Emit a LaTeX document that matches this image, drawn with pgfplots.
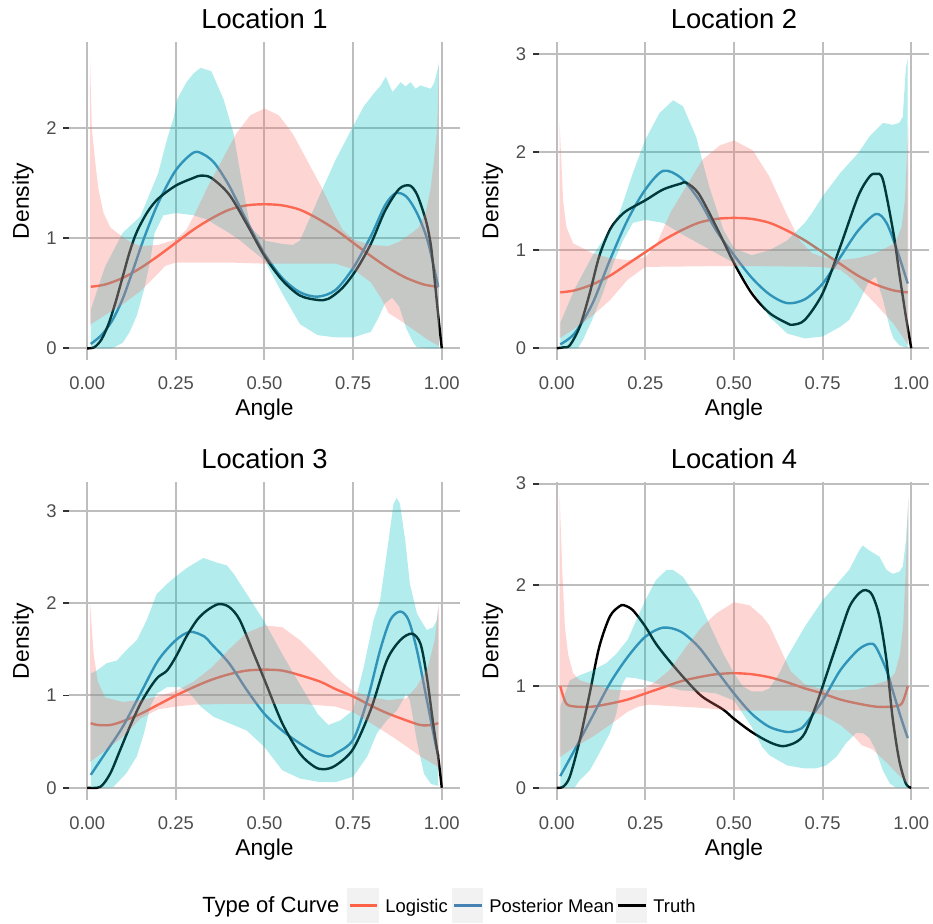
\documentclass[border=0pt]{standalone}
\usepackage{fontspec}
\setmainfont{Liberation Sans}
\usepackage{pgfplots}
\pgfplotsset{compat=1.18}
\definecolor{cyanf}{HTML}{00BFC4}
\definecolor{pinkf}{HTML}{F8766D}
\definecolor{logc}{HTML}{FF6347}
\definecolor{postc}{HTML}{4682B4}
\definecolor{gridc}{RGB}{190,190,190}
\definecolor{tickc}{HTML}{333333}
\definecolor{tlab}{HTML}{4D4D4D}
\definecolor{keybg}{HTML}{F2F2F2}
\pgfplotsset{
  panel/.style={
    scale only axis, width=195pt, height=159pt,
    xmin=-0.05, xmax=1.05,
    xtick={0,0.25,0.5,0.75,1}, ytick={0,1,2,3},
    grid=major, major grid style={gridc, line width=1pt},
    axis line style={draw=none},
    tick align=outside, major tick length=3pt,
    xtick style={draw=none}, ytick style={tickc, line width=0.9pt},
    xtick pos=left, ytick pos=left,
    /pgf/number format/assume math mode=true,
    tick label style={font=\fontsize{9.2}{11}\selectfont, text=tlab},
    x tick label style={/pgf/number format/fixed, /pgf/number format/fixed zerofill, /pgf/number format/precision=2, anchor=base, yshift=-11.75pt},
    y tick label style={anchor=east, inner sep=0pt, xshift=-3.25pt},
    every axis title shift=0pt,
    title style={at={(axis description cs:0.5,1.044)}, anchor=base, font=\fontsize{13.7}{16}\selectfont},
    xlabel=Angle, ylabel=Density,
    xlabel style={at={(axis description cs:0.5,-0.176)}, anchor=base, font=\fontsize{11.4}{13}\selectfont},
    ylabel style={at={(axis description cs:-0.1044,0.5)}, anchor=base, font=\fontsize{11.4}{13}\selectfont},
  },
  logl/.style={logc, line width=1.2pt, smooth},
  postl/.style={postc, line width=1.2pt, smooth},
  trul/.style={black, line width=1.2pt, smooth},
  cyr/.style={draw=none, fill=cyanf, fill opacity=0.3},
  pkr/.style={draw=none, fill=pinkf, fill opacity=0.3},
}
\begin{document}
\begin{tikzpicture}
\useasboundingbox (0,0) rectangle (466.5pt,-461.5pt);
% ---------------- Location 1
\begin{axis}[panel, at={(34.75pt,-180pt)}, anchor=south west, ymin=-0.106, ymax=2.785, title={Location 1}]
\addplot[logl] coordinates {(0.01,0.56)(0.05,0.58)(0.1,0.64)(0.15,0.73)(0.2,0.84)(0.25,0.96)(0.3,1.08)(0.35,1.18)(0.4,1.26)(0.45,1.30)(0.5,1.31)(0.55,1.30)(0.6,1.26)(0.65,1.18)(0.7,1.08)(0.75,0.96)(0.8,0.84)(0.85,0.73)(0.9,0.64)(0.95,0.58)(0.99,0.56)};
\addplot[postl] coordinates {(0.01,0.04)(0.04,0.12)(0.07,0.25)(0.1,0.45)(0.13,0.72)(0.16,1.0)(0.2,1.32)(0.25,1.62)(0.3,1.78)(0.33,1.76)(0.36,1.68)(0.4,1.48)(0.45,1.16)(0.5,0.86)(0.55,0.64)(0.6,0.51)(0.65,0.47)(0.7,0.53)(0.75,0.73)(0.8,1.02)(0.84,1.3)(0.87,1.41)(0.9,1.38)(0.93,1.23)(0.96,0.98)(0.99,0.56)};
\addplot[trul] coordinates {(0,0)(0.02,0.01)(0.04,0.08)(0.06,0.22)(0.08,0.42)(0.1,0.65)(0.12,0.88)(0.14,1.06)(0.17,1.24)(0.2,1.36)(0.25,1.48)(0.3,1.55)(0.32,1.57)(0.35,1.55)(0.4,1.40)(0.45,1.13)(0.5,0.84)(0.55,0.62)(0.6,0.48)(0.65,0.44)(0.68,0.45)(0.72,0.55)(0.76,0.72)(0.8,0.95)(0.84,1.25)(0.88,1.45)(0.91,1.48)(0.93,1.40)(0.95,1.22)(0.96,1.10)(0.97,0.92)(0.98,0.62)(0.99,0.3)(1,0)};
% cyan ribbon: upper bound left to right, then lower bound right to left
\addplot[cyr] coordinates {(0.01,0.35)(0.05,0.74)(0.1,1.05)(0.15,1.2)(0.2,1.59)(0.225,1.9)(0.244,2.1)(0.253,2.26)(0.28,2.42)(0.3,2.5)(0.32,2.55)(0.35,2.52)(0.385,2.26)(0.413,1.95)(0.432,1.59)(0.46,1.1)(0.5,0.98)(0.55,0.95)(0.58,0.94)(0.6,0.98)(0.63,1.2)(0.65,1.35)(0.7,1.71)(0.75,2.02)(0.78,2.2)(0.809,2.32)(0.828,2.39)(0.842,2.47)(0.861,2.33)(0.884,2.42)(0.898,2.38)(0.912,2.42)(0.926,2.36)(0.94,2.39)(0.969,2.36)(0.978,2.41)(0.988,2.53)(0.992,2.59)
 (0.992,0)(0.96,0)(0.93,0.01)(0.92,0.05)(0.9,0.18)(0.88,0.38)(0.86,0.46)(0.84,0.41)(0.82,0.27)(0.8,0.15)(0.75,0.1)(0.7,0.1)(0.65,0.12)(0.6,0.22)(0.55,0.5)(0.5,0.8)(0.45,0.93)(0.432,0.98)(0.4,1.05)(0.338,1.17)(0.3,1.21)(0.25,1.23)(0.215,1.21)(0.19,1.05)(0.178,0.8)(0.16,0.53)(0.14,0.3)(0.12,0.15)(0.1,0.05)(0.07,0)(0.01,0)};
% pink ribbon
\addplot[pkr] coordinates {(0.008,2.62)(0.013,2.0)(0.023,1.68)(0.032,1.44)(0.046,1.23)(0.065,1.1)(0.084,1.05)(0.12,0.97)(0.15,0.93)(0.2,0.94)(0.25,0.99)(0.28,1.08)(0.3,1.2)(0.34,1.47)(0.385,1.74)(0.42,1.95)(0.46,2.12)(0.5,2.18)(0.54,2.12)(0.58,1.95)(0.615,1.74)(0.66,1.47)(0.7,1.2)(0.72,1.08)(0.75,0.99)(0.8,0.94)(0.85,0.93)(0.88,0.97)(0.916,1.05)(0.935,1.1)(0.954,1.23)(0.968,1.44)(0.977,1.68)(0.987,2.0)(0.992,2.62)
 (0.992,0.02)(0.96,0.08)(0.92,0.17)(0.88,0.26)(0.85,0.32)(0.83,0.45)(0.8,0.6)(0.75,0.72)(0.7,0.77)(0.6,0.77)(0.5,0.77)(0.4,0.78)(0.3,0.78)(0.25,0.78)(0.22,0.75)(0.2,0.68)(0.15,0.52)(0.1,0.4)(0.05,0.3)(0.01,0.22)(0.008,0.2)};
\end{axis}
% ---------------- Location 2
\begin{axis}[panel, at={(269.5pt,-180pt)}, anchor=south west, ymin=-0.12, ymax=3.125, title={Location 2}]
\addplot[logl] coordinates {(0.01,0.57)(0.05,0.59)(0.1,0.65)(0.15,0.74)(0.2,0.86)(0.25,0.98)(0.3,1.10)(0.35,1.2)(0.4,1.28)(0.45,1.32)(0.5,1.33)(0.55,1.32)(0.6,1.28)(0.65,1.2)(0.7,1.10)(0.75,0.98)(0.8,0.86)(0.85,0.74)(0.9,0.65)(0.95,0.59)(0.99,0.57)};
\addplot[postl] coordinates {(0.01,0.04)(0.05,0.15)(0.1,0.45)(0.15,0.9)(0.2,1.31)(0.25,1.62)(0.3,1.81)(0.35,1.74)(0.4,1.52)(0.45,1.2)(0.5,0.95)(0.55,0.72)(0.6,0.55)(0.65,0.46)(0.7,0.5)(0.75,0.66)(0.8,0.93)(0.85,1.2)(0.9,1.37)(0.93,1.28)(0.96,1.0)(0.99,0.66)};
\addplot[trul] coordinates {(0,0)(0.02,0.01)(0.037,0.03)(0.065,0.22)(0.093,0.56)(0.12,0.94)(0.15,1.21)(0.177,1.34)(0.2,1.41)(0.25,1.51)(0.3,1.62)(0.35,1.68)(0.365,1.69)(0.4,1.58)(0.45,1.24)(0.5,0.87)(0.55,0.56)(0.6,0.36)(0.65,0.255)(0.666,0.24)(0.7,0.29)(0.75,0.56)(0.8,1.04)(0.85,1.55)(0.882,1.75)(0.9,1.78)(0.92,1.72)(0.95,1.17)(0.966,0.77)(0.985,0.32)(1,0)};
\addplot[cyr] coordinates {(0.01,0.26)(0.05,0.6)(0.1,0.94)(0.13,1.1)(0.177,1.38)(0.215,1.79)(0.25,2.13)(0.29,2.4)(0.328,2.53)(0.356,2.47)(0.393,2.16)(0.43,1.65)(0.47,1.21)(0.5,1.02)(0.55,0.95)(0.6,1.0)(0.65,1.1)(0.7,1.28)(0.72,1.38)(0.75,1.55)(0.8,1.79)(0.85,1.99)(0.882,2.16)(0.92,2.3)(0.948,2.28)(0.966,2.3)(0.976,2.36)(0.985,2.87)(0.99,2.96)
 (0.99,0)(0.966,0.03)(0.95,0.1)(0.94,0.2)(0.92,0.5)(0.9,0.73)(0.88,0.68)(0.85,0.45)(0.825,0.29)(0.8,0.22)(0.75,0.12)(0.7,0.1)(0.65,0.15)(0.6,0.32)(0.55,0.6)(0.5,0.87)(0.45,0.97)(0.4,1.07)(0.35,1.17)(0.3,1.28)(0.25,1.31)(0.215,1.28)(0.187,1.1)(0.16,0.87)(0.13,0.56)(0.1,0.29)(0.074,0.085)(0.06,0)(0.01,0)};
\addplot[pkr] coordinates {(0.008,2.3)(0.018,1.51)(0.027,1.24)(0.046,1.07)(0.074,1.02)(0.1,0.97)(0.15,0.92)(0.2,0.9)(0.25,0.93)(0.28,1.05)(0.32,1.38)(0.365,1.65)(0.41,1.92)(0.46,2.07)(0.5,2.12)(0.553,2.02)(0.6,1.75)(0.647,1.38)(0.685,1.1)(0.72,0.97)(0.75,0.93)(0.8,0.9)(0.85,0.92)(0.9,0.97)(0.926,1.02)(0.954,1.07)(0.973,1.24)(0.982,1.51)(0.992,2.3)
 (0.992,0.03)(0.95,0.25)(0.9,0.45)(0.87,0.56)(0.835,0.7)(0.8,0.8)(0.75,0.83)(0.5,0.84)(0.25,0.83)(0.2,0.7)(0.15,0.49)(0.1,0.33)(0.05,0.2)(0.008,0.1)};
\end{axis}
% ---------------- Location 3
\begin{axis}[panel, at={(34.75pt,-400pt)}, anchor=south west, ymin=-0.133, ymax=3.314, title={Location 3}]
\addplot[logl] coordinates {(0.01,0.7)(0.03,0.68)(0.065,0.68)(0.1,0.72)(0.15,0.8)(0.2,0.9)(0.25,1.0)(0.3,1.09)(0.35,1.17)(0.4,1.23)(0.45,1.27)(0.5,1.28)(0.55,1.27)(0.6,1.22)(0.657,1.15)(0.7,1.07)(0.75,0.99)(0.8,0.89)(0.845,0.81)(0.9,0.73)(0.94,0.68)(0.97,0.68)(0.99,0.7)};
\addplot[postl] coordinates {(0.01,0.14)(0.05,0.37)(0.1,0.66)(0.15,1.02)(0.2,1.38)(0.25,1.6)(0.29,1.69)(0.33,1.64)(0.35,1.56)(0.4,1.35)(0.45,1.06)(0.5,0.8)(0.55,0.62)(0.6,0.48)(0.65,0.37)(0.68,0.34)(0.7,0.37)(0.75,0.52)(0.79,0.95)(0.826,1.49)(0.855,1.82)(0.883,1.91)(0.906,1.82)(0.93,1.49)(0.958,0.95)(0.982,0.48)(0.991,0.34)};
\addplot[trul] coordinates {(0,0)(0.037,0.01)(0.065,0.155)(0.093,0.41)(0.12,0.66)(0.15,0.91)(0.178,1.09)(0.2,1.2)(0.225,1.27)(0.25,1.42)(0.28,1.64)(0.31,1.82)(0.337,1.92)(0.37,1.99)(0.4,1.96)(0.43,1.82)(0.47,1.45)(0.5,1.17)(0.55,0.7)(0.6,0.37)(0.64,0.23)(0.666,0.2)(0.7,0.24)(0.75,0.42)(0.8,0.85)(0.845,1.38)(0.883,1.6)(0.916,1.67)(0.94,1.56)(0.958,1.2)(0.977,0.66)(0.991,0.3)(1,0)};
\addplot[cyr] coordinates {(0.01,1.24)(0.027,1.27)(0.055,1.35)(0.084,1.38)(0.11,1.49)(0.14,1.6)(0.168,1.82)(0.196,2.1)(0.225,2.21)(0.25,2.29)(0.28,2.38)(0.31,2.45)(0.328,2.49)(0.366,2.44)(0.394,2.41)(0.413,2.32)(0.45,2.1)(0.5,1.8)(0.55,1.45)(0.6,1.12)(0.65,0.8)(0.68,0.68)(0.714,0.73)(0.75,0.84)(0.78,1.31)(0.808,1.82)(0.826,2.03)(0.85,2.68)(0.864,3.08)(0.873,3.14)(0.882,3.08)(0.897,2.68)(0.91,2.21)(0.93,1.89)(0.94,1.82)(0.958,1.71)(0.976,1.74)(0.986,1.82)(0.99,1.96)
 (0.99,0.02)(0.97,0.04)(0.95,0.15)(0.93,0.5)(0.91,0.95)(0.9,1.02)(0.874,0.84)(0.845,0.73)(0.817,0.59)(0.79,0.34)(0.75,0.12)(0.7,0.06)(0.65,0.065)(0.6,0.1)(0.55,0.19)(0.5,0.44)(0.45,0.62)(0.4,0.7)(0.356,0.77)(0.32,0.88)(0.29,1.02)(0.262,1.09)(0.225,1.09)(0.196,1.02)(0.178,0.88)(0.16,0.59)(0.14,0.34)(0.11,0.155)(0.074,0.01)(0.06,0)(0.01,0)};
\addplot[pkr] coordinates {(0.008,2.0)(0.018,1.45)(0.03,1.15)(0.05,0.98)(0.1,0.93)(0.15,0.95)(0.2,0.99)(0.25,1.05)(0.3,1.15)(0.35,1.3)(0.4,1.5)(0.45,1.68)(0.5,1.76)(0.55,1.74)(0.6,1.6)(0.657,1.38)(0.7,1.2)(0.75,1.05)(0.8,0.98)(0.85,0.95)(0.9,0.97)(0.93,1.1)(0.96,1.3)(0.98,1.6)(0.992,2.0)
 (0.992,0.22)(0.94,0.34)(0.9,0.45)(0.85,0.58)(0.8,0.7)(0.75,0.82)(0.7,0.88)(0.6,0.91)(0.5,0.91)(0.4,0.91)(0.3,0.9)(0.25,0.88)(0.2,0.85)(0.15,0.75)(0.1,0.55)(0.05,0.4)(0.008,0.28)};
\end{axis}
% ---------------- Location 4
\begin{axis}[panel, at={(269.5pt,-400pt)}, anchor=south west, ymin=-0.121, ymax=3.016, title={Location 4}]
\addplot[logl] coordinates {(0.01,1.0)(0.027,0.83)(0.055,0.8)(0.1,0.8)(0.15,0.83)(0.2,0.87)(0.25,0.93)(0.3,0.99)(0.35,1.05)(0.4,1.09)(0.45,1.12)(0.5,1.13)(0.55,1.12)(0.6,1.09)(0.65,1.04)(0.7,0.98)(0.75,0.93)(0.8,0.87)(0.85,0.83)(0.9,0.8)(0.945,0.8)(0.973,0.83)(0.99,1.0)};
\addplot[postl] coordinates {(0.01,0.115)(0.05,0.37)(0.1,0.7)(0.15,1.03)(0.2,1.29)(0.25,1.49)(0.3,1.58)(0.35,1.54)(0.4,1.39)(0.45,1.16)(0.5,0.93)(0.55,0.73)(0.6,0.6)(0.65,0.55)(0.68,0.57)(0.7,0.62)(0.75,0.86)(0.8,1.16)(0.85,1.36)(0.882,1.42)(0.9,1.39)(0.93,1.16)(0.95,0.93)(0.97,0.7)(0.99,0.49)};
\addplot[trul] coordinates {(0,0)(0.018,0.01)(0.037,0.11)(0.065,0.47)(0.093,0.93)(0.12,1.39)(0.15,1.69)(0.177,1.79)(0.19,1.8)(0.215,1.75)(0.25,1.59)(0.28,1.42)(0.318,1.25)(0.365,1.06)(0.41,0.9)(0.47,0.77)(0.5,0.68)(0.55,0.55)(0.6,0.45)(0.638,0.41)(0.675,0.45)(0.7,0.54)(0.73,0.8)(0.75,1.0)(0.79,1.42)(0.825,1.78)(0.853,1.92)(0.872,1.95)(0.89,1.9)(0.91,1.69)(0.93,1.26)(0.947,0.7)(0.966,0.27)(0.985,0.04)(1,0)};
\addplot[cyr] coordinates {(0.01,0.8)(0.037,1.06)(0.065,1.11)(0.102,1.16)(0.14,1.23)(0.168,1.32)(0.2,1.46)(0.224,1.65)(0.25,1.85)(0.28,2.05)(0.31,2.15)(0.328,2.15)(0.356,2.08)(0.4,1.85)(0.43,1.62)(0.47,1.32)(0.5,1.13)(0.525,1.0)(0.55,0.95)(0.58,0.95)(0.6,0.98)(0.628,1.13)(0.65,1.29)(0.7,1.59)(0.75,1.85)(0.8,2.05)(0.825,2.15)(0.853,2.34)(0.863,2.39)(0.882,2.34)(0.91,2.28)(0.93,2.15)(0.947,2.11)(0.966,2.13)(0.976,2.18)(0.985,2.44)(0.992,2.84)
 (0.992,0)(0.957,0)(0.94,0.04)(0.92,0.17)(0.9,0.37)(0.882,0.49)(0.863,0.54)(0.844,0.54)(0.816,0.44)(0.79,0.31)(0.76,0.22)(0.73,0.19)(0.7,0.19)(0.65,0.22)(0.6,0.32)(0.58,0.4)(0.55,0.6)(0.5,0.86)(0.45,0.93)(0.4,0.95)(0.35,0.96)(0.3,1.01)(0.25,1.06)(0.224,1.08)(0.196,1.09)(0.182,1.0)(0.168,0.73)(0.15,0.54)(0.12,0.34)(0.093,0.17)(0.065,0.075)(0.05,0)(0.01,0)};
\addplot[pkr] coordinates {(0.008,2.9)(0.016,2.11)(0.023,1.59)(0.032,1.32)(0.046,1.13)(0.065,1.06)(0.093,1.03)(0.15,0.97)(0.2,0.96)(0.25,0.98)(0.28,1.05)(0.318,1.16)(0.365,1.39)(0.41,1.59)(0.45,1.72)(0.5,1.83)(0.544,1.8)(0.58,1.69)(0.6,1.6)(0.62,1.45)(0.64,1.3)(0.66,1.15)(0.7,1.02)(0.75,0.97)(0.8,0.96)(0.85,0.97)(0.907,1.03)(0.935,1.06)(0.954,1.13)(0.968,1.32)(0.977,1.59)(0.984,2.11)(0.992,2.9)
 (0.992,0.03)(0.96,0.14)(0.93,0.25)(0.89,0.38)(0.86,0.42)(0.84,0.5)(0.8,0.62)(0.75,0.72)(0.7,0.76)(0.6,0.76)(0.5,0.76)(0.4,0.79)(0.3,0.81)(0.26,0.82)(0.23,0.8)(0.2,0.75)(0.15,0.62)(0.1,0.5)(0.05,0.4)(0.008,0.3)};
\end{axis}
% ---------------- legend
\node[anchor=base west, inner sep=0pt, font=\fontsize{11}{13}\selectfont] at (101pt,-456.4pt) {Type of Curve};
\fill[keybg] (173.35pt,-444pt) rectangle (189.65pt,-461.5pt);
\draw[logc, line width=1.6pt] (175pt,-452.6pt) -- (188.5pt,-452.6pt);
\node[anchor=base west, inner sep=0pt, font=\fontsize{9.2}{11}\selectfont] at (192.5pt,-456.2pt) {Logistic};
\fill[keybg] (225.85pt,-444pt) rectangle (241.65pt,-461.5pt);
\draw[postc, line width=1.6pt] (227pt,-452.6pt) -- (240.85pt,-452.6pt);
\node[anchor=base west, inner sep=0pt, font=\fontsize{9.2}{11}\selectfont] at (244.5pt,-456.2pt) {Posterior Mean};
\fill[keybg] (307.85pt,-444pt) rectangle (323.65pt,-461.5pt);
\draw[black, line width=1.6pt] (309pt,-452.6pt) -- (322.8pt,-452.6pt);
\node[anchor=base west, inner sep=0pt, font=\fontsize{9.2}{11}\selectfont] at (326.5pt,-456.2pt) {Truth};
\end{tikzpicture}
\end{document}
